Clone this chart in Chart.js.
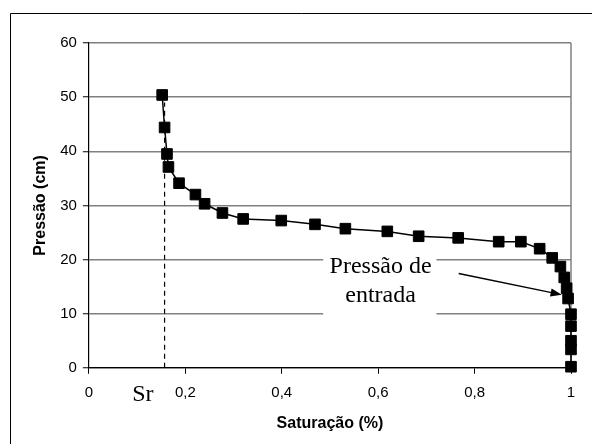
<!DOCTYPE html>
<html lang="pt">
<head>
  <meta charset="UTF-8">
  <title>Curva de retenção</title>
  <script src="https://cdn.jsdelivr.net/npm/chart.js"></script>
  <style>
    html, body { margin: 0; padding: 0; background: #fff; }
    .wrap { width: 592px; height: 444px; }
  </style>
</head>
<body>
<div class="wrap"><canvas class="chart" width="592" height="444"></canvas></div>

<script>
  // pontos medidos: saturação x pressão
  const saturacao = [0.152, 0.157, 0.162, 0.165, 0.187, 0.221, 0.240, 0.277, 0.320, 0.399,
    0.469, 0.532, 0.619, 0.684, 0.766, 0.850, 0.896, 0.935, 0.961, 0.978,
    0.986, 0.991, 0.994, 1.0, 1.0, 1.0, 1.0, 1.0];
  const pressao = [50.4, 44.4, 39.5, 37.1, 34.1, 32.0, 30.3, 28.6, 27.5, 27.2,
    26.5, 25.7, 25.2, 24.3, 24.0, 23.3, 23.3, 22.0, 20.3, 18.7,
    16.7, 14.7, 12.8, 9.9, 7.7, 5.0, 3.4, 0.2];

  // saturação residual (linha tracejada)
  const sr = 0.157;
  const srTopo = 49;

  const xTicks = [0, 0.2, 0.4, 0.6, 0.8, 1];
  const yTicks = [0, 10, 20, 30, 40, 50, 60];

  // anotação "Pressão de entrada"
  const notaTexto = ['Pressão de', 'entrada'];
  const notaPos = { x: 0.605, y1: 18.7, y2: 13.3 };
  const notaCaixa = { x0: 0.486, x1: 0.721, y0: 22.9, y1: 8.7 };
  const seta = { x0: 0.767, y0: 17.4, x1: 0.981, y1: 13.5 };

  const pontos = saturacao.map((s, i) => ({ x: s, y: pressao[i] }));

  const serif = '"Liberation Serif", "Times New Roman", serif';

  // extras: moldura, linha Sr, nota com seta e borda da área
  const extras = {
    id: 'extras',
    beforeDatasetsDraw(chart) {
      const { ctx, chartArea: a, scales: { x, y } } = chart;
      ctx.save();
      // borda direita da área do gráfico
      ctx.strokeStyle = '#808080';
      ctx.lineWidth = 1.5;
      ctx.beginPath();
      ctx.moveTo(a.right, a.top);
      ctx.lineTo(a.right, a.bottom);
      ctx.stroke();

      // linha tracejada de Sr
      ctx.strokeStyle = '#000';
      ctx.lineWidth = 1.2;
      ctx.setLineDash([5, 4]);
      ctx.beginPath();
      ctx.moveTo(x.getPixelForValue(sr), y.getPixelForValue(0));
      ctx.lineTo(x.getPixelForValue(sr), y.getPixelForValue(srTopo));
      ctx.stroke();
      ctx.setLineDash([]);

      // caixa branca da nota
      const bx0 = x.getPixelForValue(notaCaixa.x0), bx1 = x.getPixelForValue(notaCaixa.x1);
      const by0 = y.getPixelForValue(notaCaixa.y0), by1 = y.getPixelForValue(notaCaixa.y1);
      ctx.fillStyle = '#fff';
      ctx.fillRect(bx0, by0, bx1 - bx0, by1 - by0);
      ctx.restore();
    },
    afterDraw(chart) {
      const { ctx, scales: { x, y } } = chart;
      ctx.save();
      // moldura externa
      ctx.strokeStyle = '#000';
      ctx.lineWidth = 1;
      ctx.beginPath();
      ctx.moveTo(10.5, 444);
      ctx.lineTo(10.5, 13.5);
      ctx.lineTo(592, 13.5);
      ctx.stroke();

      // texto da nota
      ctx.fillStyle = '#000';
      ctx.font = '24px ' + serif;
      ctx.textAlign = 'center';
      ctx.textBaseline = 'middle';
      const tx = x.getPixelForValue(notaPos.x);
      ctx.fillText(notaTexto[0], tx, y.getPixelForValue(notaPos.y1));
      ctx.fillText(notaTexto[1], tx, y.getPixelForValue(notaPos.y2));

      // seta
      const x0 = x.getPixelForValue(seta.x0), y0 = y.getPixelForValue(seta.y0);
      const x1 = x.getPixelForValue(seta.x1), y1 = y.getPixelForValue(seta.y1);
      const ang = Math.atan2(y1 - y0, x1 - x0);
      ctx.strokeStyle = '#000';
      ctx.lineWidth = 1.5;
      ctx.beginPath();
      ctx.moveTo(x0, y0);
      ctx.lineTo(x1 - 8 * Math.cos(ang), y1 - 8 * Math.sin(ang));
      ctx.stroke();
      ctx.beginPath();
      ctx.moveTo(x1, y1);
      ctx.lineTo(x1 - 12 * Math.cos(ang - 0.35), y1 - 12 * Math.sin(ang - 0.35));
      ctx.lineTo(x1 - 12 * Math.cos(ang + 0.35), y1 - 12 * Math.sin(ang + 0.35));
      ctx.closePath();
      ctx.fill();

      // rótulo Sr abaixo do eixo
      ctx.font = '24px ' + serif;
      ctx.fillText('Sr', x.getPixelForValue(0.112), y.getPixelForValue(0) + 27);
      ctx.restore();
    }
  };

  const arial = '"Liberation Sans", Arial, sans-serif';

  new Chart(document.querySelector('.chart'), {
    type: 'scatter',
    data: {
      datasets: [{
        data: pontos,
        showLine: true,
        clip: false,
        borderColor: '#000',
        borderWidth: 1.5,
        backgroundColor: '#000',
        pointStyle: 'rect',
        pointRadius: 7.5,
        pointBorderWidth: 1,
        tension: 0
      }]
    },
    options: {
      responsive: false,
      animation: false,
      events: [],
      layout: { padding: { left: 31, right: 21, top: 43, bottom: 11 } },
      plugins: { legend: { display: false }, tooltip: { enabled: false } },
      scales: {
        x: {
          type: 'linear',
          min: 0,
          max: 1,
          afterBuildTicks: axis => { axis.ticks = xTicks.map(v => ({ value: v })); },
          ticks: {
            color: '#000',
            font: { family: arial, size: 15 },
            padding: 10,
            maxRotation: 0,
            callback: v => String(v).replace('.', ',')
          },
          grid: { drawOnChartArea: false, tickLength: 6, tickColor: '#000', tickWidth: 1 },
          border: { color: '#000', width: 1.2 },
          title: {
            display: true,
            text: 'Saturação (%)',
            color: '#000',
            font: { family: arial, size: 16, weight: 'bold' },
            padding: { top: 2, bottom: 0 }
          }
        },
        y: {
          min: 0,
          max: 60,
          afterBuildTicks: axis => { axis.ticks = yTicks.map(v => ({ value: v })); },
          ticks: { color: '#000', font: { family: arial, size: 15 }, padding: 6 },
          grid: { color: '#808080', lineWidth: 1.5, tickLength: 6, tickColor: '#000', tickWidth: 1 },
          border: { color: '#000', width: 1.2 },
          title: {
            display: true,
            text: 'Pressão (cm)',
            color: '#000',
            font: { family: arial, size: 16, weight: 'bold' },
            padding: { top: 0, bottom: 4 }
          }
        }
      }
    },
    plugins: [extras]
  });
</script>
</body>
</html>
